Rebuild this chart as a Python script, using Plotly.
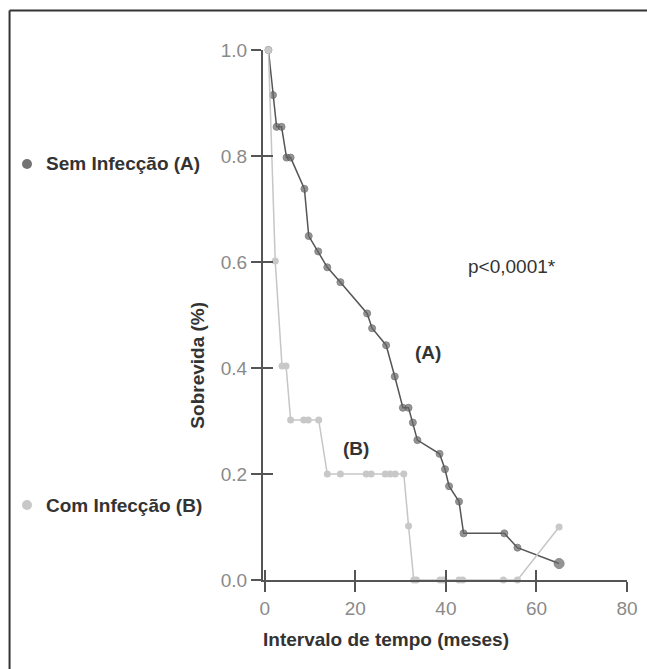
import plotly.graph_objects as go

# Curve A: Sem Infecção
A_x = [0.8, 1.8, 2.6, 3.7, 4.8, 5.7, 8.75, 9.7, 11.8, 13.8, 16.7, 22.6, 23.7, 26.8, 28.7,
       30.5, 31.75, 32.7, 33.7, 38.6, 39.8, 40.7, 42.9, 43.9, 52.9, 55.8, 65.0]
A_y = [1.0, 0.915, 0.855, 0.855, 0.797, 0.797, 0.738, 0.649, 0.62, 0.59, 0.562, 0.503, 0.475,
       0.443, 0.384, 0.325, 0.325, 0.297, 0.264, 0.238, 0.209, 0.177, 0.148, 0.088, 0.088,
       0.061, 0.031]

# Curve B: Com Infecção
B_x = [0.8, 2.3, 3.8, 4.7, 5.7, 8.6, 9.6, 11.9, 13.8, 16.7, 22.4, 23.5, 26.6, 27.7, 28.8,
       30.7, 31.75, 32.9, 33.5, 38.7, 39.5, 42.9, 43.7, 52.7, 55.8, 65.0]
B_y = [1.0, 0.602, 0.404, 0.404, 0.302, 0.302, 0.302, 0.302, 0.2, 0.2, 0.2, 0.2, 0.2, 0.2,
       0.2, 0.2, 0.102, 0, 0, 0, 0, 0, 0, 0, 0, 0.1]

x_ticks = [0, 20, 40, 60, 80]
y_ticks = [0.0, 0.2, 0.4, 0.6, 0.8, 1.0]
y_tick_text = ["0.0", "0.2", "0.4", "0.6", "0.8", "1.0"]

FONT = "Liberation Sans, Arial, sans-serif"
NARROW = "Liberation Sans Narrow, Arial Narrow, Liberation Sans, sans-serif"
LIGHT = "#c6c6c6"
TXT = "#333333"
BIG = 19

a_sizes = [7] * (len(A_x) - 1) + [10]

fig = go.Figure()
fig.add_trace(go.Scatter(x=A_x, y=A_y, mode="lines+markers",
                         line=dict(color="#555555", width=1.5),
                         marker=dict(color="#686868", size=a_sizes),
                         cliponaxis=False, showlegend=False))
fig.add_trace(go.Scatter(x=B_x, y=B_y, mode="lines+markers",
                         line=dict(color=LIGHT, width=1.5),
                         marker=dict(color="#c8c8c8", size=7),
                         cliponaxis=False, showlegend=False))
# overlay axes for the inner half of crossing ticks
fig.add_trace(go.Scatter(x=[None], y=[None], xaxis="x2", yaxis="y2", showlegend=False))

tick_common = dict(showgrid=False, zeroline=False, ticklen=10, tickwidth=1.5,
                   tickcolor="#555555", automargin=False)
tickfont = dict(family=NARROW, size=19, color="#8a8a8a")

fig.update_layout(
    width=647, height=669,
    margin=dict(l=262.5, r=19.7, t=50, b=89),
    paper_bgcolor="white", plot_bgcolor="white",
    xaxis=dict(range=[-0.4, 80], tickvals=x_ticks, ticks="outside", tickfont=tickfont,
               showline=True, linecolor="#555555", linewidth=2, **tick_common),
    yaxis=dict(range=[0, 1.0], tickvals=y_ticks, ticktext=y_tick_text, ticks="outside",
               tickfont=tickfont, showline=True, linecolor="#555555", linewidth=2, **tick_common),
    xaxis2=dict(range=[-0.4, 80], tickvals=x_ticks, ticks="inside", overlaying="x",
                anchor="y2", showticklabels=False, showline=False, **tick_common),
    yaxis2=dict(range=[0, 1.0], tickvals=y_ticks, ticks="inside", overlaying="y",
                anchor="x2", showticklabels=False, showline=False, **tick_common),
)

W = 647 - 262.5 - 19.7
H = 669 - 50 - 89

def px(xp):
    return (xp - 262.5) / W

def py(yp):
    return (580 - yp) / H

ann = []
ann.append(dict(text="<b>Intervalo de tempo (meses)</b>", x=px(386), y=py(639), xref="paper", yref="paper",
                showarrow=False, font=dict(family=FONT, size=BIG, color=TXT),
                xanchor="center", yanchor="middle"))
ann.append(dict(text="<b>Sobrevida (%)</b>", x=px(196), y=py(365), xref="paper", yref="paper",
                showarrow=False, textangle=-90, font=dict(family=FONT, size=BIG, color=TXT),
                xanchor="center", yanchor="middle"))
ann.append(dict(text="<b>Sem Infecção (A)</b>", x=px(43), y=py(164), xref="paper", yref="paper",
                showarrow=False, font=dict(family=FONT, size=BIG, color=TXT),
                xanchor="left", yanchor="middle"))
ann.append(dict(text="<b>Com Infecção (B)</b>", x=px(43), y=py(505), xref="paper", yref="paper",
                showarrow=False, font=dict(family=FONT, size=BIG, color=TXT),
                xanchor="left", yanchor="middle"))
ann.append(dict(text="p<0,0001*", x=54.6, y=0.592, xref="x", yref="y",
                showarrow=False, font=dict(family=FONT, size=19, color=TXT),
                xanchor="center", yanchor="middle"))
ann.append(dict(text="<b>(A)</b>", x=36.1, y=0.43, xref="x", yref="y",
                showarrow=False, font=dict(family=FONT, size=BIG, color=TXT),
                xanchor="center", yanchor="middle"))
ann.append(dict(text="<b>(B)</b>", x=20.2, y=0.249, xref="x", yref="y",
                showarrow=False, font=dict(family=FONT, size=BIG, color=TXT),
                xanchor="center", yanchor="middle"))
fig.update_layout(annotations=ann)

shapes = []
# legend dots
for yy, col in [(164, "#747474"), (505, "#c8c8c8")]:
    shapes.append(dict(type="circle", xref="paper", yref="paper", xsizemode="pixel", ysizemode="pixel",
                       xanchor=px(26), yanchor=py(yy), x0=-5, x1=5, y0=-5, y1=5,
                       fillcolor=col, line=dict(width=0)))
# frame (top and left border)
shapes.append(dict(type="line", xref="paper", yref="paper", x0=px(8.5), x1=px(660), y0=py(10.5), y1=py(10.5),
                   line=dict(color="#333333", width=2)))
shapes.append(dict(type="line", xref="paper", yref="paper", x0=px(8.5), x1=px(8.5), y0=py(10.5), y1=py(680),
                   line=dict(color="#333333", width=2)))
fig.update_layout(shapes=shapes)

fig.write_html("out.html")
